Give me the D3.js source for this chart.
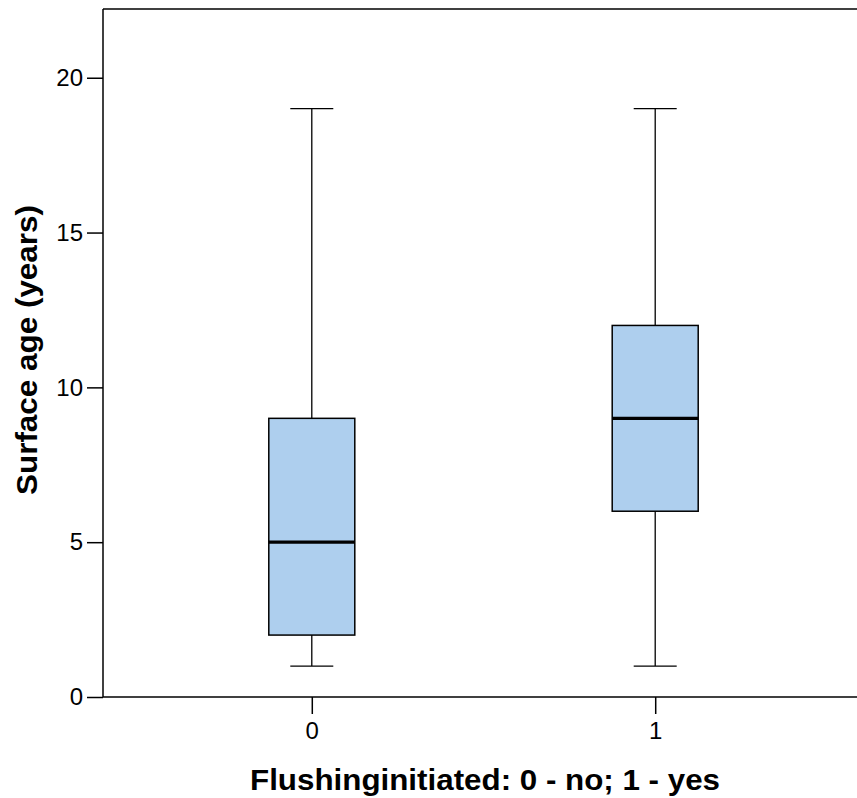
<!DOCTYPE html>
<html>
<head>
<meta charset="utf-8">
<script src="https://cdn.jsdelivr.net/npm/d3@7/dist/d3.min.js"></script>
<style>
  html, body { margin: 0; padding: 0; background: #fff; }
  svg { display: block; }
  text { font-family: "Liberation Sans", Arial, sans-serif; }
</style>
</head>
<body>
<svg id="chart" width="857" height="798"></svg>
<script>
// Data
const categories = ["0", "1"];
const whiskerLow = [1, 1];
const q1Values = [2, 6];
const medianValues = [5, 9];
const q3Values = [9, 12];
const whiskerHigh = [19, 19];
const yTicks = [0, 5, 10, 15, 20];

const xTitle = "Flushinginitiated: 0 - no; 1 - yes";
const yTitle = "Surface age (years)";

const svg = d3.select("#chart");
const plot = { left: 103, top: 9, right: 864, bottom: 697 };

const x = d3.scalePoint().domain(categories).range([plot.left, plot.right]).padding(0.608);
const y = d3.scaleLinear().domain([0, 22.22]).range([plot.bottom, plot.top]);

const boxW = 86;
const capW = 43;

const boxes = categories.map((c, i) => ({
  cat: c, lo: whiskerLow[i], q1: q1Values[i], med: medianValues[i], q3: q3Values[i], hi: whiskerHigh[i]
}));

// frame (top and left, right is outside view)
svg.append("line").attr("x1", plot.left).attr("x2", plot.right + 5)
  .attr("y1", plot.top).attr("y2", plot.top).attr("stroke", "#000").attr("stroke-width", 1.5);

// axes
const yAxis = d3.axisLeft(y).tickValues(yTicks).tickSize(16).tickPadding(4).tickFormat(d3.format("d"));
const gy = svg.append("g").attr("transform", `translate(${plot.left},0)`).call(yAxis);
gy.select(".domain").remove();
gy.append("line").attr("x1", 0).attr("x2", 0).attr("y1", plot.top).attr("y2", plot.bottom)
  .attr("stroke", "#000").attr("stroke-width", 1.5);
gy.selectAll(".tick line").attr("stroke", "#000").attr("stroke-width", 1.5);
gy.selectAll(".tick text").style("font-size", "24px").attr("fill", "#000")
  .style("font-family", "'Liberation Sans', Arial, sans-serif");

const xAxis = d3.axisBottom(x).tickSize(17).tickPadding(8);
const gx = svg.append("g").attr("transform", `translate(0,${plot.bottom})`).call(xAxis);
gx.select(".domain").remove();
gx.append("line").attr("x1", plot.left).attr("x2", plot.right + 5).attr("y1", 0).attr("y2", 0)
  .attr("stroke", "#000").attr("stroke-width", 1.5);
gx.selectAll(".tick line").attr("stroke", "#000").attr("stroke-width", 1.5);
gx.selectAll(".tick text").style("font-size", "24px").attr("fill", "#000")
  .style("font-family", "'Liberation Sans', Arial, sans-serif");

// boxes
const g = svg.append("g");
const bx = g.selectAll("g.box").data(boxes).join("g").attr("class", "box");

// whiskers
bx.append("line").attr("x1", d => x(d.cat)).attr("x2", d => x(d.cat))
  .attr("y1", d => y(d.q3)).attr("y2", d => y(d.hi)).attr("stroke", "#000").attr("stroke-width", 1.3);
bx.append("line").attr("x1", d => x(d.cat)).attr("x2", d => x(d.cat))
  .attr("y1", d => y(d.q1)).attr("y2", d => y(d.lo)).attr("stroke", "#000").attr("stroke-width", 1.3);
// caps
bx.append("line").attr("x1", d => x(d.cat) - capW / 2).attr("x2", d => x(d.cat) + capW / 2)
  .attr("y1", d => y(d.hi)).attr("y2", d => y(d.hi)).attr("stroke", "#000").attr("stroke-width", 1.3);
bx.append("line").attr("x1", d => x(d.cat) - capW / 2).attr("x2", d => x(d.cat) + capW / 2)
  .attr("y1", d => y(d.lo)).attr("y2", d => y(d.lo)).attr("stroke", "#000").attr("stroke-width", 1.3);
// box
bx.append("rect").attr("x", d => x(d.cat) - boxW / 2).attr("width", boxW)
  .attr("y", d => y(d.q3)).attr("height", d => y(d.q1) - y(d.q3))
  .attr("fill", "#aecfee").attr("stroke", "#000").attr("stroke-width", 1.5);
// median
bx.append("line").attr("x1", d => x(d.cat) - boxW / 2).attr("x2", d => x(d.cat) + boxW / 2)
  .attr("y1", d => y(d.med)).attr("y2", d => y(d.med)).attr("stroke", "#000").attr("stroke-width", 3.2);

// titles
svg.append("text").attr("x", 485).attr("y", 790).attr("text-anchor", "middle")
  .style("font-size", "29px").attr("font-weight", "bold").attr("fill", "#000")
  .attr("textLength", 470).attr("lengthAdjust", "spacingAndGlyphs").text(xTitle);
svg.append("text").attr("transform", `translate(37,350) rotate(-90)`).attr("text-anchor", "middle")
  .style("font-size", "29px").attr("font-weight", "bold").attr("fill", "#000")
  .attr("textLength", 290).attr("lengthAdjust", "spacingAndGlyphs").text(yTitle);
</script>
</body>
</html>
